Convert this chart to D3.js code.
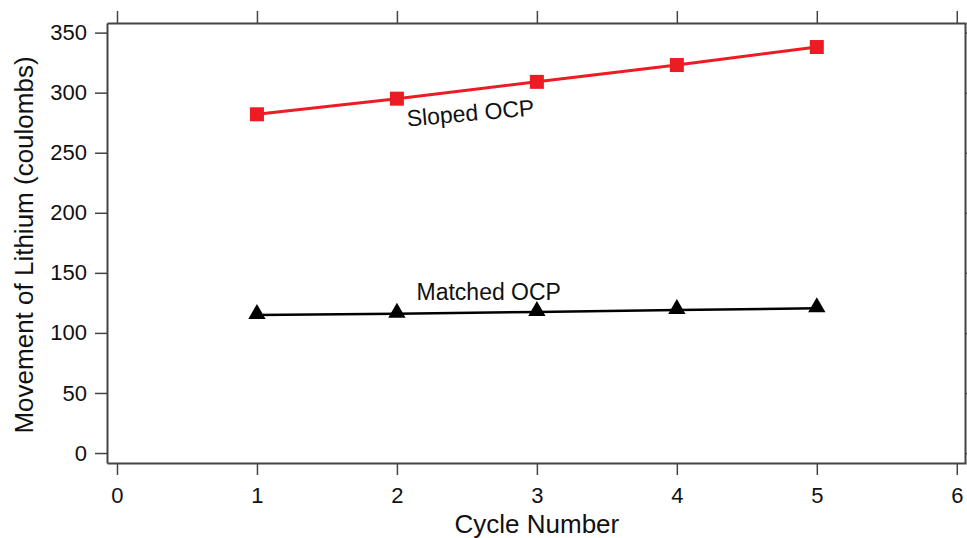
<!DOCTYPE html>
<html>
<head>
<meta charset="utf-8">
<script src="https://cdn.jsdelivr.net/npm/d3@7"></script>
<style>
  html, body { margin: 0; padding: 0; background: #fff; }
  svg { display: block; font-family: "Liberation Sans", Arial, sans-serif; }
</style>
</head>
<body>
<svg id="chart" width="967" height="538"></svg>
<script>
// Cycle numbers and lithium movement per cycle (coulombs)
const cycles = [1, 2, 3, 4, 5];
const slopedOCP = [282, 295, 309, 323, 338];
const matchedOCP = [115, 116, 117.5, 119, 120.5];
const xTicks = [0, 1, 2, 3, 4, 5, 6];
const yTicks = [0, 50, 100, 150, 200, 250, 300, 350];

const svg = d3.select("#chart");
const plotLeft = 107, plotRight = 966, plotTop = 23, plotBottom = 463;

const x = d3.scaleLinear().domain([-0.0714, 6.066]).range([plotLeft, plotRight]);
const y = d3.scaleLinear().domain([-8.3, 358]).range([plotBottom, plotTop]);

const axisColor = "#444";
const tickLen = 12;

function styleAxis(g) {
  g.selectAll("path.domain").attr("stroke", axisColor).attr("stroke-width", 2);
  g.selectAll(".tick line").attr("stroke", axisColor).attr("stroke-width", 1.5);
  g.selectAll(".tick text").attr("fill", "#111").style("font-size", "22px")
    .style("font-family", "'Liberation Sans', Arial, sans-serif");
}

// Bottom axis
svg.append("g").attr("transform", `translate(0,${plotBottom})`)
  .call(d3.axisBottom(x).tickValues(xTicks).tickFormat(d3.format("d"))
    .tickSizeInner(tickLen).tickSizeOuter(0).tickPadding(12))
  .call(styleAxis);

// Top mirror axis
svg.append("g").attr("transform", `translate(0,${plotTop})`)
  .call(d3.axisTop(x).tickValues(xTicks).tickFormat("")
    .tickSizeInner(tickLen).tickSizeOuter(0))
  .call(styleAxis);

// Left axis
svg.append("g").attr("transform", `translate(${plotLeft},0)`)
  .call(d3.axisLeft(y).tickValues(yTicks).tickFormat(d3.format("d"))
    .tickSizeInner(tickLen).tickSizeOuter(0).tickPadding(8))
  .call(styleAxis);

// Right mirror axis
svg.append("g").attr("transform", `translate(${plotRight - 1},0)`)
  .call(d3.axisRight(y).tickValues(yTicks).tickFormat("")
    .tickSizeInner(tickLen).tickSizeOuter(0))
  .call(styleAxis);

// Series lines
const line = d3.line().x(d => x(d[0])).y(d => y(d[1]));
const slopedPts = cycles.map((c, i) => [c, slopedOCP[i]]);
const matchedPts = cycles.map((c, i) => [c, matchedOCP[i]]);

svg.append("path").datum(slopedPts).attr("d", line)
  .attr("fill", "none").attr("stroke", "#ed1c24").attr("stroke-width", 3);
svg.append("path").datum(matchedPts).attr("d", line)
  .attr("fill", "none").attr("stroke", "#000").attr("stroke-width", 2.5);

// Square markers
svg.selectAll("rect.sq").data(slopedPts).enter().append("rect")
  .attr("class", "sq")
  .attr("x", d => x(d[0]) - 7).attr("y", d => y(d[1]) - 7)
  .attr("width", 14).attr("height", 14).attr("fill", "#ed1c24");

// Triangle markers
const tri = d3.symbol().type(d3.symbolTriangle).size(130);
svg.selectAll("path.tri").data(matchedPts).enter().append("path")
  .attr("class", "tri")
  .attr("transform", d => `translate(${x(d[0])},${y(d[1]) - 1})`)
  .attr("d", tri).attr("fill", "#000");

// Series annotations
svg.append("text")
  .attr("transform", `translate(${x(2.53)},${y(276.5)}) rotate(-5)`)
  .attr("text-anchor", "middle")
  .style("font-size", "23px").attr("fill", "#111")
  .text("Sloped OCP");

svg.append("text")
  .attr("x", x(2.14)).attr("y", y(127))
  .style("font-size", "23px").attr("fill", "#111")
  .text("Matched OCP");

// Axis titles
svg.append("text")
  .attr("x", x(3)).attr("y", 533)
  .attr("text-anchor", "middle")
  .style("font-size", "26px").attr("fill", "#111")
  .text("Cycle Number");

svg.append("text")
  .attr("transform", `translate(33,${(plotTop + plotBottom) / 2 + 2}) rotate(-90)`)
  .attr("text-anchor", "middle")
  .style("font-size", "26px").attr("fill", "#111")
  .text("Movement of Lithium (coulombs)");
</script>
</body>
</html>
